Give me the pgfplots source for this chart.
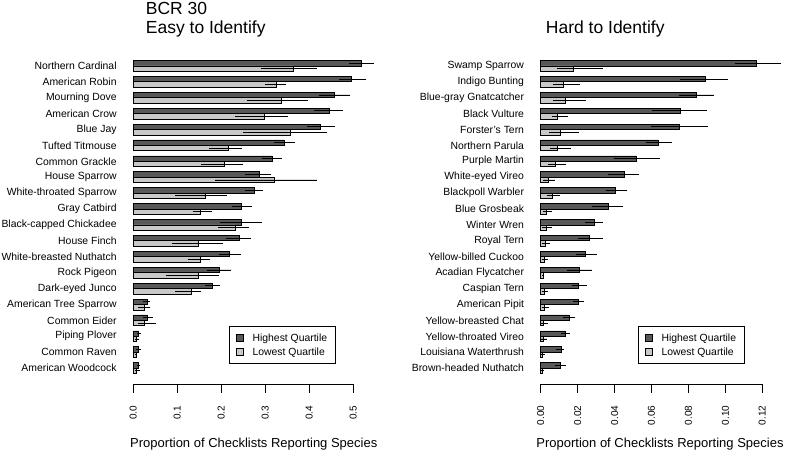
\documentclass[border=0pt]{standalone}
\usepackage{pgfplots}
\pgfplotsset{compat=1.18}
\usepackage{pgfplotstable}
\usepackage{fontspec}
\setmainfont{Liberation Sans}

\definecolor{hiq}{HTML}{585858}
\definecolor{loq}{HTML}{C8C8C8}

% pos, highest quartile (value, low, high), lowest quartile (value, low, high)
\pgfplotstableread{
pos hv hlo hhi lv llo lhi
1 0.519 0.491 0.547 0.364 0.290 0.417
2 0.496 0.468 0.530 0.326 0.300 0.347
3 0.457 0.423 0.492 0.337 0.258 0.396
4 0.446 0.411 0.477 0.298 0.232 0.352
5 0.426 0.395 0.458 0.357 0.250 0.441
6 0.344 0.319 0.367 0.216 0.173 0.247
7 0.315 0.293 0.337 0.207 0.154 0.250
8 0.287 0.255 0.314 0.321 0.186 0.417
9 0.275 0.255 0.295 0.164 0.095 0.213
10 0.245 0.225 0.270 0.153 0.135 0.178
11 0.245 0.196 0.292 0.232 0.192 0.263
12 0.240 0.211 0.268 0.148 0.088 0.205
13 0.218 0.194 0.244 0.153 0.125 0.175
14 0.196 0.167 0.223 0.148 0.074 0.195
15 0.180 0.164 0.197 0.132 0.095 0.155
16 0.033 0.023 0.039 0.025 0.011 0.039
17 0.032 0.021 0.045 0.025 0.010 0.052
18 0.012 0.008 0.017 0.008 0.004 0.014
19 0.012 0.007 0.017 0.007 0.005 0.008
20 0.011 0.008 0.015 0.008 0.005 0.015
}\easy

\pgfplotstableread{
pos hv hlo hhi lv llo lhi
1 0.1169 0.1052 0.1303 0.0177 0.0090 0.0336
2 0.0890 0.0754 0.1012 0.0125 0.0069 0.0213
3 0.0845 0.0749 0.0938 0.0134 0.0069 0.0244
4 0.0756 0.0601 0.0899 0.0090 0.0060 0.0146
5 0.0752 0.0597 0.0908 0.0105 0.0047 0.0206
6 0.0639 0.0570 0.0713 0.0090 0.0051 0.0162
7 0.0516 0.0397 0.0646 0.0078 0.0042 0.0137
8 0.0451 0.0365 0.0532 0.0042 0.0014 0.0078
9 0.0402 0.0355 0.0469 0.0063 0.0032 0.0106
10 0.0366 0.0280 0.0448 0.0032 0.0014 0.0063
11 0.0291 0.0242 0.0336 0.0032 0.0009 0.0063
12 0.0263 0.0204 0.0337 0.0027 0.0009 0.0051
13 0.0244 0.0189 0.0305 0.0018 0.0005 0.0038
14 0.0208 0.0144 0.0276 0.0014 0.0005 0.0020
15 0.0204 0.0171 0.0249 0.0018 0.0005 0.0042
16 0.0204 0.0173 0.0235 0.0020 0.0005 0.0045
17 0.0155 0.0121 0.0188 0.0014 0.0002 0.0038
18 0.0135 0.0108 0.0159 0.0014 0.0002 0.0034
19 0.0110 0.0083 0.0128 0.0009 0.0002 0.0023
20 0.0108 0.0078 0.0137 0.0009 0.0002 0.0020
}\hard

\pgfplotsset{
  panel/.style={
    scale only axis, height=326.1pt,
    ymin=0.5, ymax=21, y dir=reverse,
    xbar, bar width=0.34,
    axis x line*=bottom, axis y line*=left,
    y axis line style={draw=none},
    x axis line style={-, line width=0.8pt},
    every outer x axis line/.append style={-},
    ytick={1,...,20}, ytick style={draw=none},
    yticklabel style={font=\fontsize{10.4}{12}\selectfont, inner sep=0pt, xshift=-8pt},
    tick align=outside, major tick length=8.5pt,
    xtick style={black, line width=0.8pt},
    xticklabel style={yshift=-13pt, rotate=90, anchor=east, inner sep=0pt, font=\fontsize{10}{12}\selectfont},
    clip=false,
    legend style={anchor=center, draw=black, line width=0.8pt,
      inner xsep=6.5pt, inner ysep=5pt, row sep=1pt, column sep=7pt,
      font=\fontsize{10.4}{12}\selectfont},
    legend cell align=left,
  },
  sq/.style={legend image code/.code={\draw[line width=0.7pt, ##1] (0pt,-3.3pt) rectangle (6.7pt,3.4pt);}},
  hibar/.style={fill=hiq, draw=black, line width=0.7pt, bar shift=-0.17, forget plot},
  lobar/.style={fill=loq, draw=black, line width=0.7pt, bar shift=0.17, forget plot},
  ebars/.style={error bars/.cd, x dir=both, x explicit, error mark=none,
    error bar style={black, line width=0.8pt}},
}

\begin{document}
\begin{tikzpicture}
\useasboundingbox (0,0) rectangle (787pt,453pt);

\begin{axis}[panel, at={(133.3pt,69pt)}, anchor=south west, width=220pt,
  xmin=0, xmax=0.5,
  xtick={0,0.1,0.2,0.3,0.4,0.5}, xticklabels={0.0,0.1,0.2,0.3,0.4,0.5},
  yticklabels={Northern Cardinal, American Robin, Mourning Dove, American Crow,
    Blue Jay, Tufted Titmouse, Common Grackle, House Sparrow, White-throated Sparrow,
    Gray Catbird, Black-capped Chickadee, House Finch, White-breasted Nuthatch,
    Rock Pigeon, Dark-eyed Junco, American Tree Sparrow, Common Eider, Piping Plover,
    Common Raven, American Woodcock},
  legend style={at={(0.679,0.119)}}]
\addplot[hibar, ebars] table[x=hv, y=pos,
  x error plus expr=\thisrow{hhi}-\thisrow{hv},
  x error minus expr=\thisrow{hv}-\thisrow{hlo}] {\easy};
\addplot[lobar, ebars] table[x=lv, y=pos,
  x error plus expr=\thisrow{lhi}-\thisrow{lv},
  x error minus expr=\thisrow{lv}-\thisrow{llo}] {\easy};
\addlegendimage{sq, fill=hiq, draw=black}
\addlegendentry{Highest Quartile}
\addlegendimage{sq, fill=loq, draw=black}
\addlegendentry{Lowest Quartile}
\end{axis}

\begin{axis}[panel, at={(540.7pt,69pt)}, anchor=south west, width=221.6pt,
  xmin=0, xmax=0.12,
  xtick={0,0.02,0.04,0.06,0.08,0.10,0.12},
  xticklabels={0.00,0.02,0.04,0.06,0.08,0.10,0.12},
  yticklabels={Swamp Sparrow, Indigo Bunting, Blue-gray Gnatcatcher, Black Vulture,
    Forster's Tern, Northern Parula, Purple Martin, White-eyed Vireo, Blackpoll Warbler,
    Blue Grosbeak, Winter Wren, Royal Tern, Yellow-billed Cuckoo, Acadian Flycatcher,
    Caspian Tern, American Pipit, Yellow-breasted Chat, Yellow-throated Vireo,
    Louisiana Waterthrush, Brown-headed Nuthatch},
  legend style={at={(0.681,0.119)}}]
\addplot[hibar, ebars] table[x=hv, y=pos,
  x error plus expr=\thisrow{hhi}-\thisrow{hv},
  x error minus expr=\thisrow{hv}-\thisrow{hlo}] {\hard};
\addplot[lobar, ebars] table[x=lv, y=pos,
  x error plus expr=\thisrow{lhi}-\thisrow{lv},
  x error minus expr=\thisrow{lv}-\thisrow{llo}] {\hard};
\addlegendimage{sq, fill=hiq, draw=black}
\addlegendentry{Highest Quartile}
\addlegendimage{sq, fill=loq, draw=black}
\addlegendentry{Lowest Quartile}
\end{axis}

\node[anchor=base west, font=\fontsize{17.5}{20}\selectfont, inner sep=0pt] at (145.7pt,438pt) {BCR 30};
\node[anchor=base west, font=\fontsize{17.5}{20}\selectfont, inner sep=0pt] at (145.7pt,419pt) {Easy to Identify};
\node[anchor=base west, font=\fontsize{17.5}{20}\selectfont, inner sep=0pt] at (545.7pt,419pt) {Hard to Identify};
\node[anchor=base, font=\fontsize{13}{15}\selectfont, inner sep=0pt] at (253.8pt,6pt) {Proportion of Checklists Reporting Species};
\node[anchor=base, font=\fontsize{13}{15}\selectfont, inner sep=0pt] at (660pt,6pt) {Proportion of Checklists Reporting Species};
\end{tikzpicture}
\end{document}
